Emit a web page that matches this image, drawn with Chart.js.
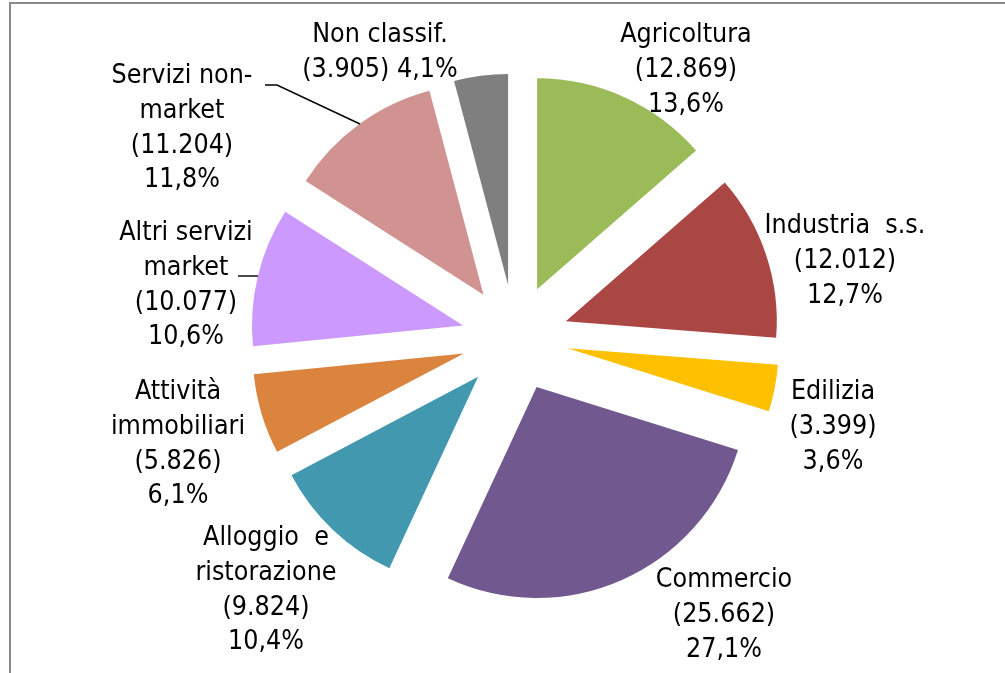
<!DOCTYPE html>
<html>
<head>
<meta charset="utf-8">
<script src="https://cdn.jsdelivr.net/npm/chart.js@4"></script>
<style>
  html, body { margin: 0; padding: 0; background: #fff; overflow: hidden; }
</style>
</head>
<body>
<canvas id="pieChart" width="1005" height="673"></canvas>
<script>
// Occupati per settore - torta esplosa

const categories = ['Agricoltura', 'Industria  s.s.', 'Edilizia', 'Commercio', 'Alloggio  e\nristorazione',
    'Attività\nimmobiliari', 'Altri servizi\nmarket', 'Servizi non-\nmarket', 'Non classif.'];
const values = [12869, 12012, 3399, 25662, 9824, 5826, 10077, 11204, 3905];
const colors = ['#9BBB59', '#AA4744', '#FFC000', '#71588F', '#4198AF', '#DB843D', '#CC99FF', '#D19392', '#7F7F7F'];

// posizione etichette (centro x, linea di base della prima riga)
const labelPos = [
    { x: 686, y: 42 }, { x: 845, y: 233 }, { x: 833, y: 399 }, { x: 724, y: 587 },
    { x: 266, y: 545 }, { x: 178, y: 399 }, { x: 186, y: 240 }, { x: 182, y: 83 },
    { x: 380, y: 42, inline: true }
];
const leaders = [
    [[265, 85], [277, 85], [360, 124]],
    [[238, 276], [258, 276]]
];

const RADIUS = 211;
const EXPLODE = 53.5;
const LINE_H = 34.8;
const TEXT_SX = 0.92;

const total = values.reduce((a, b) => a + b, 0);
const fmtNum = v => String(v).replace(/\B(?=(\d{3})+(?!\d))/g, '.');
const fmtPct = v => (v / total * 100).toFixed(1).replace('.', ',') + '%';

// stessa distanza di esplosione e stesso raggio per tutte le fette
const explodeFix = {
    id: 'explodeFix',
    afterDatasetUpdate(chart, args) {
        args.meta.data.forEach(arc => {
            const fix = 1 - Math.sin(Math.min(Math.PI, arc.circumference));
            const grow = EXPLODE * fix;
            arc.outerRadius = RADIUS - grow;
            const a = grow / (2 * Math.PI * RADIUS);
            arc.startAngle -= a;
            arc.endAngle += a;
        });
    }
};

const frameAndLabels = {
    id: 'frameAndLabels',
    beforeDraw(chart) {
        const ctx = chart.ctx;
        ctx.save();
        ctx.fillStyle = '#8a8a8a';
        ctx.fillRect(9, 2, 2, 671);
        ctx.fillRect(9, 2, 996, 2);
        ctx.restore();
    },
    afterDraw(chart) {
        const ctx = chart.ctx;
        ctx.save();
        ctx.fillStyle = '#000';
        ctx.font = '26px "DejaVu Sans"';
        ctx.textAlign = 'center';
        ctx.textBaseline = 'alphabetic';
        categories.forEach((name, i) => {
            const p = labelPos[i];
            let lines = name.split('\n');
            if (p.inline) {
                lines.push('(' + fmtNum(values[i]) + ') ' + fmtPct(values[i]));
            } else {
                lines.push('(' + fmtNum(values[i]) + ')', fmtPct(values[i]));
            }
            lines.forEach((t, k) => {
                ctx.save();
                ctx.translate(p.x, p.y + k * LINE_H);
                ctx.scale(TEXT_SX, 1);
                ctx.fillText(t, 0, 0);
                ctx.restore();
            });
        });
        ctx.strokeStyle = '#000';
        ctx.lineWidth = 1.4;
        leaders.forEach(pts => {
            ctx.beginPath();
            pts.forEach((pt, k) => k ? ctx.lineTo(pt[0], pt[1]) : ctx.moveTo(pt[0], pt[1]));
            ctx.stroke();
        });
        ctx.restore();
    }
};

new Chart(document.getElementById('pieChart'), {
    type: 'pie',
    data: {
        labels: categories,
        datasets: [{
            data: values,
            backgroundColor: colors,
            borderWidth: 0,
            offset: EXPLODE * 4,
            hoverOffset: 0
        }]
    },
    options: {
        responsive: false,
        animation: false,
        devicePixelRatio: 1,
        events: [],
        radius: RADIUS,
        layout: { padding: { left: 25, right: 0, top: 3, bottom: 0 } },
        plugins: { legend: { display: false }, tooltip: { enabled: false } }
    },
    plugins: [explodeFix, frameAndLabels]
});
</script>
</body>
</html>
